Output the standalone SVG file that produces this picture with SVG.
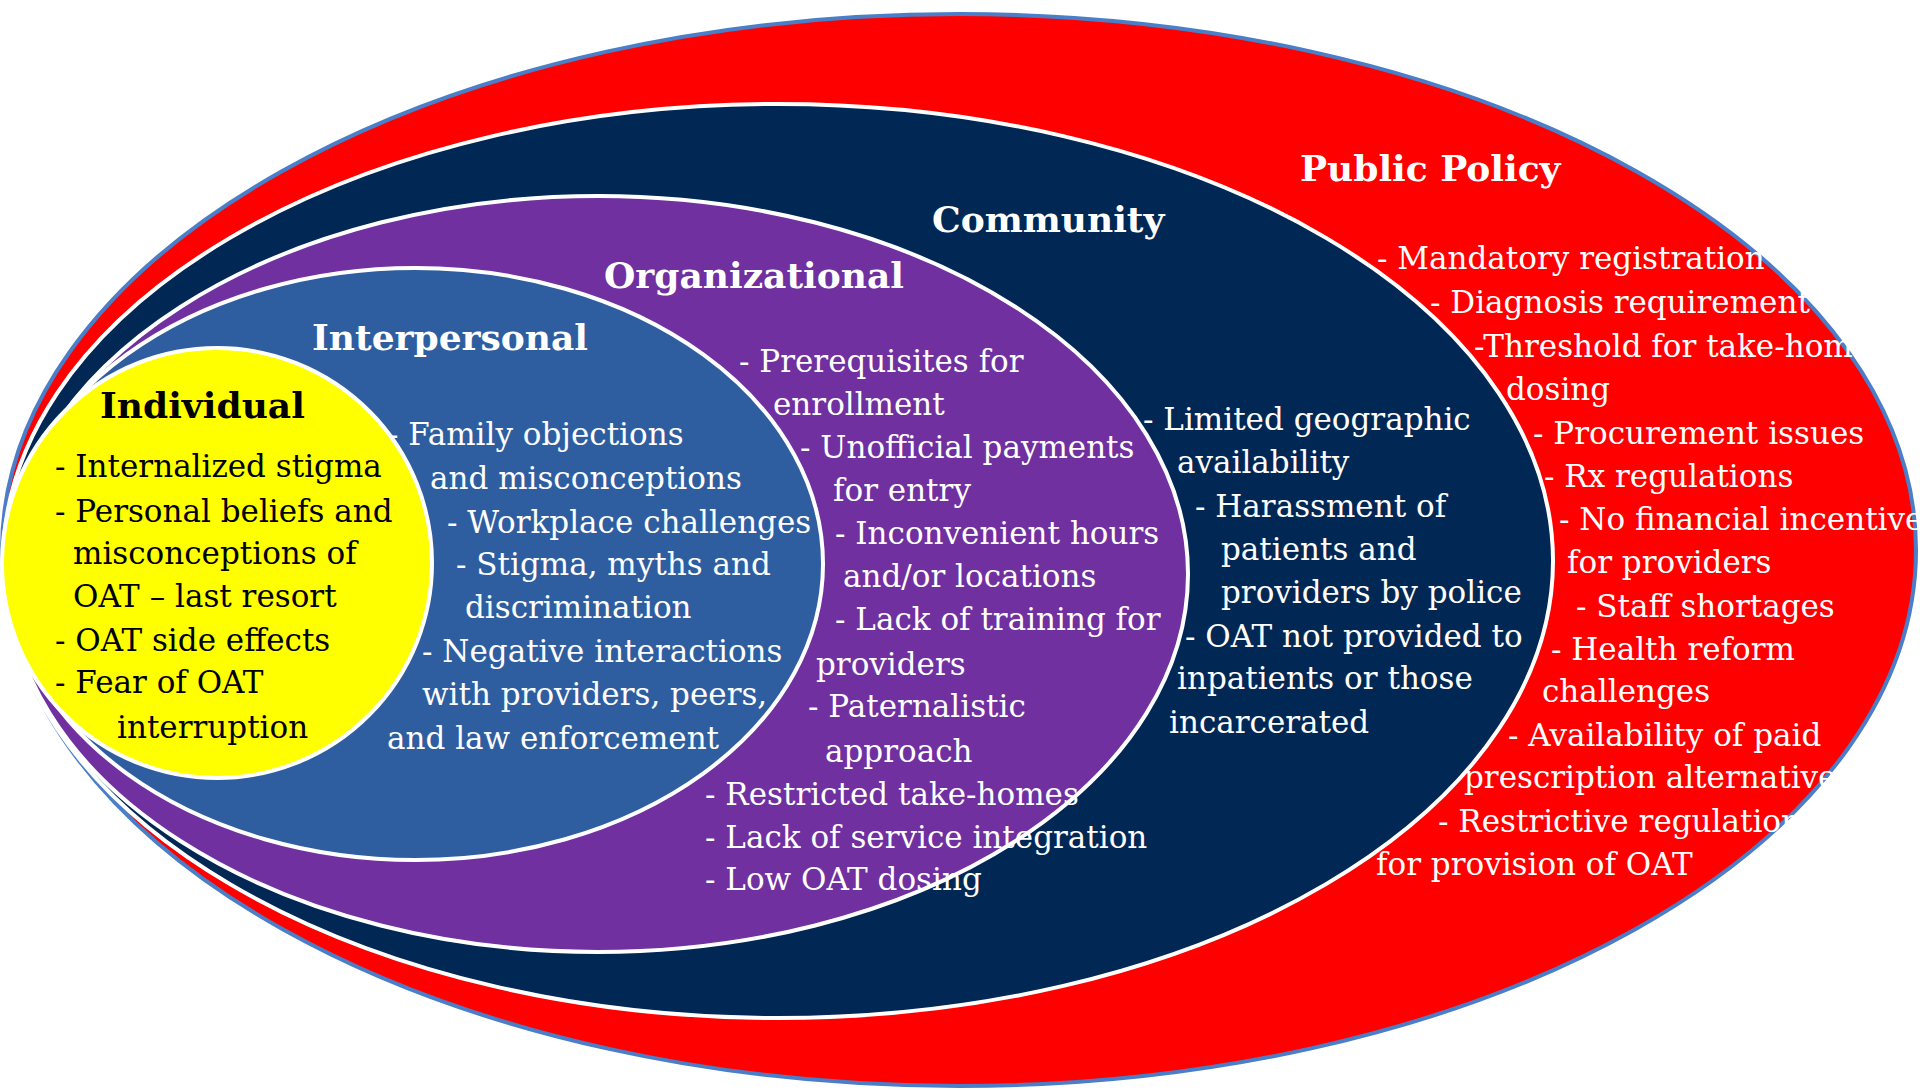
<svg xmlns="http://www.w3.org/2000/svg" width="1920" height="1090" viewBox="0 0 1920 1090">
<style>
.t{font-family:"DejaVu Serif","Liberation Serif",serif;font-size:31px;fill:#ffffff}
.h{font-family:"DejaVu Serif","Liberation Serif",serif;font-size:36px;font-weight:bold;fill:#ffffff}
.dk{fill:#000000}
.ring{stroke:#ffffff;stroke-width:4}
</style>
<rect width="1920" height="1090" fill="#ffffff"/>
<g id="public-policy">
<ellipse cx="959" cy="550" rx="957" ry="536" fill="#ff0000" stroke="#4a7ec8" stroke-width="4"/>
<text class="h" x="1300" y="181">Public Policy</text>
<text class="t" x="1377" y="269">- Mandatory registration</text>
<text class="t" x="1430" y="313">- Diagnosis requirement</text>
<text class="t" x="1474" y="357">-Threshold for take-home</text>
<text class="t" x="1506" y="400">dosing</text>
<text class="t" x="1533" y="444">- Procurement issues</text>
<text class="t" x="1544" y="487">- Rx regulations</text>
<text class="t" x="1559" y="530">- No financial incentives</text>
<text class="t" x="1567" y="573">for providers</text>
<text class="t" x="1576" y="617">- Staff shortages</text>
<text class="t" x="1551" y="660">- Health reform</text>
<text class="t" x="1542" y="702">challenges</text>
<text class="t" x="1508" y="746">- Availability of paid</text>
<text class="t" x="1464" y="788">prescription alternatives</text>
<text class="t" x="1438" y="832">- Restrictive regulations</text>
<text class="t" x="1376" y="875">for provision of OAT</text>
</g>
<g id="community">
<ellipse class="ring" cx="778" cy="561" rx="775" ry="457" fill="#012754"/>
<text class="h" x="932" y="232">Community</text>
<text class="t" x="1143" y="430">- Limited geographic</text>
<text class="t" x="1177" y="473">availability</text>
<text class="t" x="1195" y="517">- Harassment of</text>
<text class="t" x="1221" y="560">patients and</text>
<text class="t" x="1221" y="603">providers by police</text>
<text class="t" x="1185" y="647">- OAT not provided to</text>
<text class="t" x="1177" y="689">inpatients or those</text>
<text class="t" x="1169" y="733">incarcerated</text>
</g>
<g id="organizational">
<ellipse class="ring" cx="598" cy="574" rx="590" ry="378" fill="#7030a0"/>
<text class="h" x="604" y="288">Organizational</text>
<text class="t" x="739" y="372">- Prerequisites for</text>
<text class="t" x="773" y="415">enrollment</text>
<text class="t" x="800" y="458">- Unofficial payments</text>
<text class="t" x="833" y="501">for entry</text>
<text class="t" x="835" y="544">- Inconvenient hours</text>
<text class="t" x="843" y="587">and/or locations</text>
<text class="t" x="835" y="630">- Lack of training for</text>
<text class="t" x="816" y="675">providers</text>
<text class="t" x="808" y="717">- Paternalistic</text>
<text class="t" x="825" y="762">approach</text>
<text class="t" x="705" y="805">- Restricted take-homes</text>
<text class="t" x="705" y="848">- Lack of service integration</text>
<text class="t" x="705" y="890">- Low OAT dosing</text>
</g>
<g id="interpersonal">
<ellipse class="ring" cx="415" cy="564" rx="408" ry="296" fill="#2e5e9f"/>
<text class="h" x="312" y="350">Interpersonal</text>
<text class="t" x="388" y="445">- Family objections</text>
<text class="t" x="430" y="489">and misconceptions</text>
<text class="t" x="447" y="533">- Workplace challenges</text>
<text class="t" x="456" y="575">- Stigma, myths and</text>
<text class="t" x="465" y="618">discrimination</text>
<text class="t" x="422" y="662">- Negative interactions</text>
<text class="t" x="422" y="705">with providers, peers,</text>
<text class="t" x="387" y="749">and law enforcement</text>
</g>
<g id="individual">
<ellipse class="ring" cx="217" cy="563" rx="215" ry="215" fill="#ffff00"/>
<text class="h dk" x="100" y="418">Individual</text>
<text class="t dk" x="55" y="477">- Internalized stigma</text>
<text class="t dk" x="55" y="522">- Personal beliefs and</text>
<text class="t dk" x="73" y="564">misconceptions of</text>
<text class="t dk" x="73" y="607">OAT – last resort</text>
<text class="t dk" x="55" y="651">- OAT side effects</text>
<text class="t dk" x="55" y="693">- Fear of OAT</text>
<text class="t dk" x="117" y="738">interruption</text>
</g>
<g id="connectors"/>
</svg>
